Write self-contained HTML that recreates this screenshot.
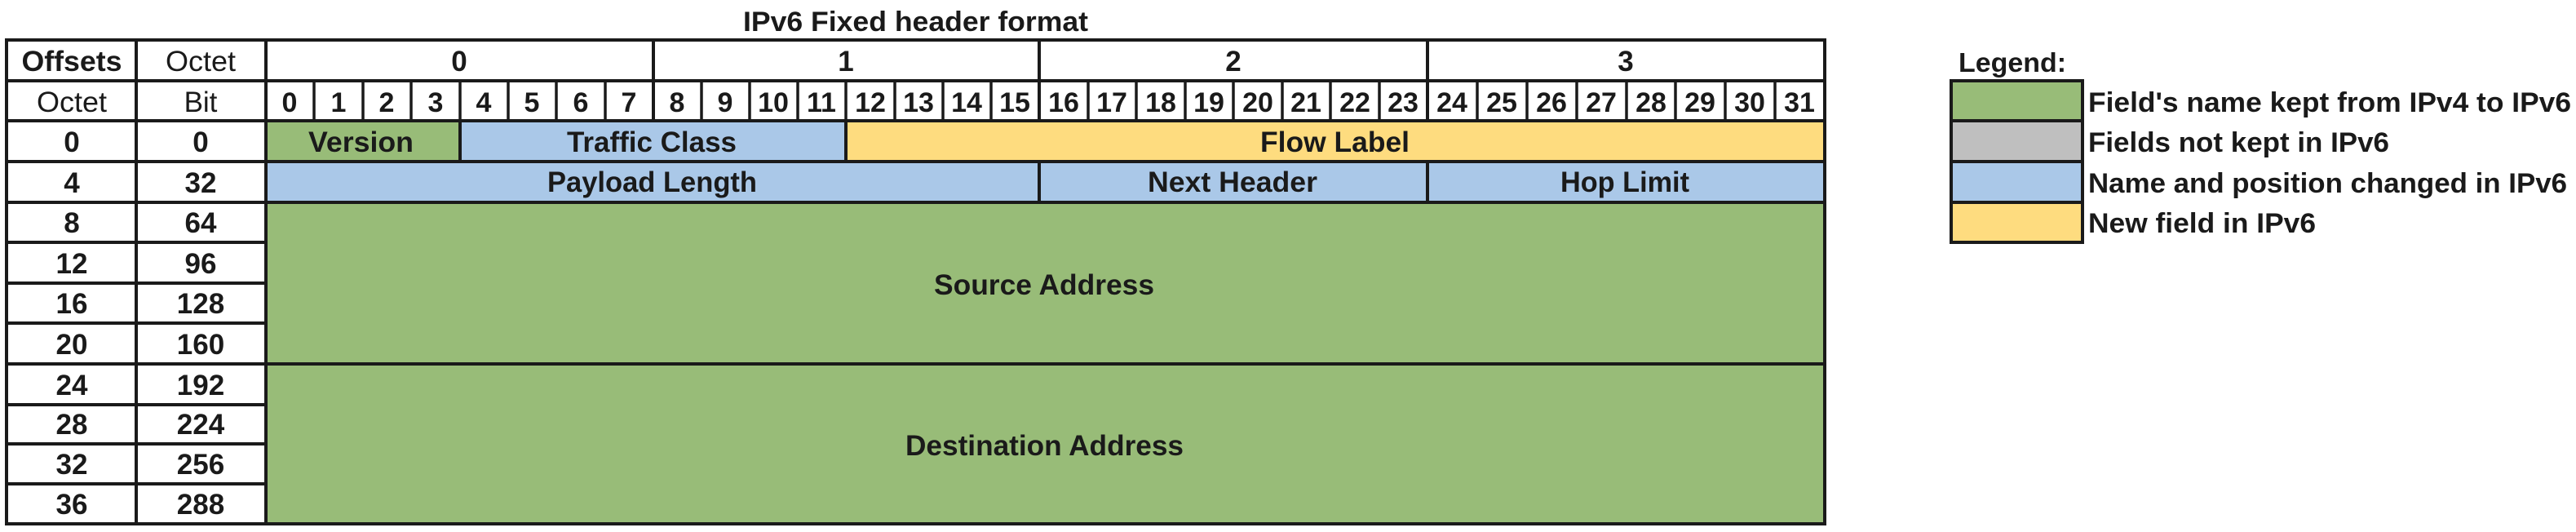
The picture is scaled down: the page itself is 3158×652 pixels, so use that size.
<!DOCTYPE html>
<html><head><meta charset="utf-8"><style>
html,body{margin:0;padding:0;background:#fff;}
svg{display:block;}
text{font-family:"Liberation Sans",sans-serif;font-weight:bold;fill:#1a1a1a;}
</style></head><body>
<svg width="3158" height="652" viewBox="0 0 3158 652" xmlns="http://www.w3.org/2000/svg">
<rect x="0" y="0" width="3158" height="652" fill="#fff"/>
<!-- title -->
<text x="911" y="38" font-size="34" textLength="423" lengthAdjust="spacingAndGlyphs">IPv6 Fixed header format</text>

<!-- fills -->
<rect x="326" y="148" width="238" height="50" fill="#98bc78"/>
<rect x="564" y="148" width="473" height="50" fill="#aac8e8"/>
<rect x="1037" y="148" width="1200" height="50" fill="#fedc7f"/>
<rect x="326" y="198" width="1911" height="50" fill="#aac8e8"/>
<rect x="326" y="248" width="1911" height="394" fill="#98bc78"/>

<!-- lines -->
<g stroke="#1a1a1a" stroke-width="4" fill="none">
<line x1="6" y1="49" x2="2239" y2="49"/>
<line x1="6" y1="99" x2="2239" y2="99"/>
<line x1="6" y1="148" x2="2239" y2="148"/>
<line x1="6" y1="198" x2="2239" y2="198"/>
<line x1="6" y1="248" x2="2239" y2="248"/>
<line x1="6" y1="446" x2="2239" y2="446"/>
<line x1="6" y1="642" x2="2239" y2="642"/>
<line x1="6" y1="297" x2="326" y2="297"/>
<line x1="6" y1="347" x2="326" y2="347"/>
<line x1="6" y1="396" x2="326" y2="396"/>
<line x1="6" y1="496" x2="326" y2="496"/>
<line x1="6" y1="544" x2="326" y2="544"/>
<line x1="6" y1="593" x2="326" y2="593"/>
<line x1="8" y1="47" x2="8" y2="644"/>
<line x1="167" y1="47" x2="167" y2="644"/>
<line x1="326" y1="47" x2="326" y2="644"/>
<line x1="2237" y1="47" x2="2237" y2="644"/>
<line x1="801" y1="49" x2="801" y2="148"/>
<line x1="1274" y1="49" x2="1274" y2="148"/>
<line x1="1750" y1="49" x2="1750" y2="148"/>
<line x1="564" y1="148" x2="564" y2="198"/>
<line x1="1037" y1="148" x2="1037" y2="198"/>
<line x1="1274" y1="198" x2="1274" y2="248"/>
<line x1="1750" y1="198" x2="1750" y2="248"/>
</g>
<g stroke="#1a1a1a" stroke-width="3.5">
<line x1="385" y1="99" x2="385" y2="148"/><line x1="445" y1="99" x2="445" y2="148"/><line x1="504" y1="99" x2="504" y2="148"/><line x1="564" y1="99" x2="564" y2="148"/><line x1="623" y1="99" x2="623" y2="148"/><line x1="682" y1="99" x2="682" y2="148"/><line x1="742" y1="99" x2="742" y2="148"/>
<line x1="860" y1="99" x2="860" y2="148"/><line x1="919" y1="99" x2="919" y2="148"/><line x1="978" y1="99" x2="978" y2="148"/><line x1="1037" y1="99" x2="1037" y2="148"/><line x1="1097" y1="99" x2="1097" y2="148"/><line x1="1156" y1="99" x2="1156" y2="148"/><line x1="1215" y1="99" x2="1215" y2="148"/>
<line x1="1334" y1="99" x2="1334" y2="148"/><line x1="1393" y1="99" x2="1393" y2="148"/><line x1="1453" y1="99" x2="1453" y2="148"/><line x1="1512" y1="99" x2="1512" y2="148"/><line x1="1572" y1="99" x2="1572" y2="148"/><line x1="1631" y1="99" x2="1631" y2="148"/><line x1="1691" y1="99" x2="1691" y2="148"/>
<line x1="1811" y1="99" x2="1811" y2="148"/><line x1="1872" y1="99" x2="1872" y2="148"/><line x1="1933" y1="99" x2="1933" y2="148"/><line x1="1994" y1="99" x2="1994" y2="148"/><line x1="2054" y1="99" x2="2054" y2="148"/><line x1="2115" y1="99" x2="2115" y2="148"/><line x1="2176" y1="99" x2="2176" y2="148"/>
</g>

<!-- header texts -->
<g font-size="35" text-anchor="middle">
<text x="88" y="87" textLength="123" lengthAdjust="spacingAndGlyphs">Offsets</text>
<text x="246" y="87" font-weight="normal" style="font-weight:normal" textLength="86" lengthAdjust="spacingAndGlyphs">Octet</text>
<text x="88" y="137" style="font-weight:normal" textLength="86" lengthAdjust="spacingAndGlyphs">Octet</text>
<text x="246" y="137" style="font-weight:normal">Bit</text>
<text x="563" y="87">0</text>
<text x="1037" y="87">1</text>
<text x="1512" y="87">2</text>
<text x="1993" y="87">3</text>
</g>
<!-- bits -->
<g font-size="34" text-anchor="middle">
<text x="355" y="137">0</text><text x="415" y="137">1</text><text x="474" y="137">2</text><text x="534" y="137">3</text>
<text x="593" y="137">4</text><text x="652" y="137">5</text><text x="712" y="137">6</text><text x="771" y="137">7</text>
<text x="830" y="137">8</text><text x="889" y="137">9</text><text x="948" y="137">10</text><text x="1007" y="137">11</text>
<text x="1067" y="137">12</text><text x="1126" y="137">13</text><text x="1185" y="137">14</text><text x="1244" y="137">15</text>
<text x="1304" y="137">16</text><text x="1363" y="137">17</text><text x="1423" y="137">18</text><text x="1482" y="137">19</text>
<text x="1542" y="137">20</text><text x="1601" y="137">21</text><text x="1661" y="137">22</text><text x="1720" y="137">23</text>
<text x="1780" y="137">24</text><text x="1841" y="137">25</text><text x="1902" y="137">26</text><text x="1963" y="137">27</text>
<text x="2024" y="137">28</text><text x="2084" y="137">29</text><text x="2145" y="137">30</text><text x="2206" y="137">31</text>
</g>
<!-- offsets -->
<g font-size="35" text-anchor="middle">
<text x="88" y="186">0</text><text x="246" y="186">0</text>
<text x="88" y="236">4</text><text x="246" y="236">32</text>
<text x="88" y="285">8</text><text x="246" y="285">64</text>
<text x="88" y="335">12</text><text x="246" y="335">96</text>
<text x="88" y="384">16</text><text x="246" y="384">128</text>
<text x="88" y="434">20</text><text x="246" y="434">160</text>
<text x="88" y="484">24</text><text x="246" y="484">192</text>
<text x="88" y="532">28</text><text x="246" y="532">224</text>
<text x="88" y="581">32</text><text x="246" y="581">256</text>
<text x="88" y="630">36</text><text x="246" y="630">288</text>
</g>
<!-- fields -->
<g font-size="35">
<text x="378" y="186" textLength="129" lengthAdjust="spacingAndGlyphs">Version</text>
<text x="695" y="186" textLength="208" lengthAdjust="spacingAndGlyphs">Traffic Class</text>
<text x="1545" y="186" textLength="183" lengthAdjust="spacingAndGlyphs">Flow Label</text>
<text x="671" y="235" textLength="257" lengthAdjust="spacingAndGlyphs">Payload Length</text>
<text x="1407" y="235" textLength="208" lengthAdjust="spacingAndGlyphs">Next Header</text>
<text x="1913" y="235" textLength="158" lengthAdjust="spacingAndGlyphs">Hop Limit</text>
<text x="1145" y="361" textLength="270" lengthAdjust="spacingAndGlyphs">Source Address</text>
<text x="1110" y="558" textLength="341" lengthAdjust="spacingAndGlyphs">Destination Address</text>
</g>

<!-- legend -->
<text x="2401" y="88" font-size="33" textLength="132" lengthAdjust="spacingAndGlyphs">Legend:</text>
<g stroke="#1a1a1a" stroke-width="4">
<rect x="2392" y="99" width="161" height="49" fill="#98bc78"/>
<rect x="2392" y="148" width="161" height="50" fill="#bfbfbf"/>
<rect x="2392" y="198" width="161" height="50" fill="#aac8e8"/>
<rect x="2392" y="248" width="161" height="49" fill="#fedc7f"/>
</g>
<g font-size="34">
<text x="2560" y="137" textLength="592" lengthAdjust="spacingAndGlyphs">Field's name kept from IPv4 to IPv6</text>
<text x="2560" y="186" textLength="369" lengthAdjust="spacingAndGlyphs">Fields not kept in IPv6</text>
<text x="2560" y="236" textLength="587" lengthAdjust="spacingAndGlyphs">Name and position changed in IPv6</text>
<text x="2560" y="285" textLength="279" lengthAdjust="spacingAndGlyphs">New field in IPv6</text>
</g>
</svg>
</body></html>
